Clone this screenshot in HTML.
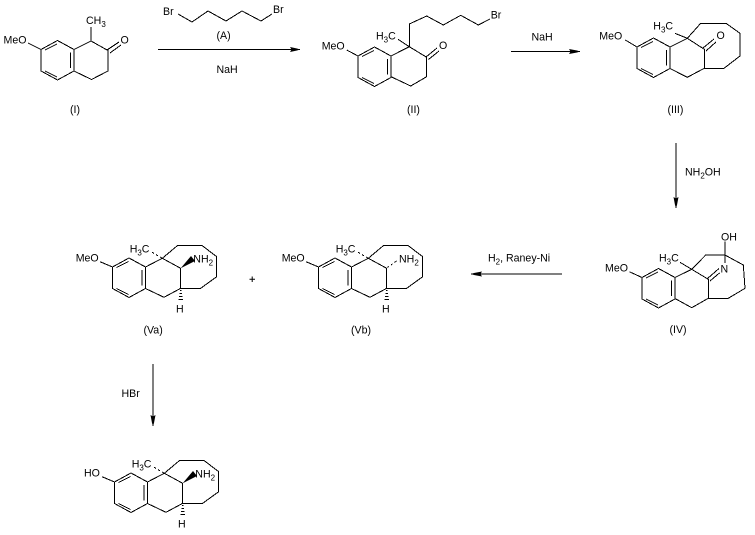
<!DOCTYPE html>
<html>
<head>
<meta charset="utf-8">
<style>
html,body{margin:0;padding:0;background:#fff;}
svg{display:block;}
text{font-family:"Liberation Sans",Arial,sans-serif;font-size:10.6px;fill:#000;}
tspan.s{font-size:8px;}
.b{fill:none;stroke:#000;stroke-width:1;shape-rendering:crispEdges;}
.f{fill:#000;stroke:none;}
</style>
</head>
<body>
<svg width="755" height="535" viewBox="0 0 755 535" xmlns="http://www.w3.org/2000/svg">
<rect width="755" height="535" fill="#fff"/>
<defs>
<g id="ring" class="b">
<polygon points="0,0 16.5,-9 33,0 33,21.5 16.5,30.5 0,21.5"/>
<path d="M4 0.5L16 -5.5M29.5 3V18.5M4 21.5L16 27.5"/>
</g>
<g id="core">
<use href="#ring" x="112.5" y="267"/>
<path class="b" d="M100 261.7L112.5 267M145.5 267L162.3 258.3L180.7 268.3V288.3L164 297.3L145.5 288.5M162.3 258.3L177.3 245.7H202.3L216.7 256.7V276.7L200.7 288.3H180.7"/>
<path class="b" d="M162.3 258.3L160 257M158 255.8L156 254.6M154 253.4L152 252.2"/>
<path class="b" d="M180 290.5h1.5M179.5 293.5h2.5M179 296.5h3.5M178.5 299.5h4.5"/>
</g>
</defs>

<!-- I -->
<use href="#ring" x="41" y="49.5"/>
<path class="b" d="M28 43L41 49.5M74 49.5L91 41L108 50.5V71L91.5 79.5L74 71M91 41V27M107 50L119 42M110 53L121 45"/>
<text x="3.5" y="43.5">MeO</text>
<text x="86" y="24">CH<tspan class="s" dy="3">3</tspan></text>
<text x="120.5" y="43.5">O</text>
<text x="70" y="113">(I)</text>

<!-- A -->
<path class="b" d="M178 14L192 22L208 11L226 21L242 11L261 21L272 14"/>
<text x="163" y="15">Br</text>
<text x="273" y="13">Br</text>
<text x="216.5" y="39">(A)</text>
<text x="216.5" y="73">NaH</text>
<path class="b" d="M158 49.5H300"/>
<path class="f" d="M290 47L297 48.5L300 49.5L297 50.5L290 52L291.5 49.5Z"/>

<!-- II -->
<use href="#ring" x="358" y="56"/>
<path class="b" d="M346.7 50L358 56M391 56L409.3 46.7L426.7 57.3V76.7L410.7 86L391 76.7M398 39.3L409.3 46.7M409.3 46.7V24L426.7 16L443.3 25L460.7 15.3L478.3 25L490 19M426 57L437 48M428.5 59.5L439 51"/>
<text x="321.7" y="49.3">MeO</text>
<text x="376" y="39.5">H<tspan class="s" dy="3">3</tspan><tspan dy="-3">C</tspan></text>
<text x="439" y="49">O</text>
<text x="490.7" y="18.5">Br</text>
<text x="407" y="113">(II)</text>

<!-- arrow 2 -->
<path class="b" d="M511 51.5H580"/>
<path class="f" d="M569 49L577 50.5L580 51.5L577 52.5L569 54L570.5 51.5Z"/>
<text x="531.5" y="40.5">NaH</text>

<!-- III -->
<use href="#ring" x="637" y="47"/>
<path class="b" d="M625.3 40L637 47M670 47L687.3 38.3L704.3 49.3V68.3H724L740 56V33.3L726 23.3H700.7L687.3 38.3M704.3 68.3L687.3 77.3L670 68.5M675 33.3L687.3 38.3M703 48L714 39M706 51L716 42"/>
<text x="599.3" y="39.3">MeO</text>
<text x="653.3" y="29.3">H<tspan class="s" dy="3">3</tspan><tspan dy="-3">C</tspan></text>
<text x="716.5" y="39">O</text>
<text x="667.5" y="113">(III)</text>

<!-- arrow 3 -->
<path class="b" d="M676 143V208"/>
<path class="f" d="M673.5 197L675 205L676 208L677 205L678.5 197L676 198.5Z"/>
<text x="685" y="175.7">NH<tspan class="s" dy="3">2</tspan><tspan dy="-3">OH</tspan></text>

<!-- IV -->
<use href="#ring" x="642" y="277.5"/>
<path class="b" d="M629.3 271.7L642 277.5M675 277.5L691.7 269.3L708.3 279.3V298.3H728.3L745 288.3L743.3 265L725 255H705.7L691.7 269.3M708.3 298.3L691.7 307.7L675 298.5M680 262.3L691.7 269.3M707.5 278.5L719 268.5M710 281L720 272.5M725 241.7V263"/>
<rect x="719.5" y="263" width="10" height="10" fill="#fff"/>
<text x="605" y="271.7">MeO</text>
<text x="659" y="261.7">H<tspan class="s" dy="3">3</tspan><tspan dy="-3">C</tspan></text>
<text x="720.5" y="272.5">N</text>
<text x="721" y="240.7">OH</text>
<text x="669.5" y="333">(IV)</text>

<!-- arrow 4 -->
<path class="b" d="M471 274H562"/>
<path class="f" d="M482 271.5L474 273L471 274L474 275L482 276.5L480.5 274Z"/>
<text x="488" y="261.7">H<tspan class="s" dy="3">2</tspan><tspan dy="-3">, Raney-Ni</tspan></text>

<!-- Vb -->
<use href="#core" x="206" y="0"/>
<path class="b" d="M387.5 267.5L389 266.3M391 265L392.5 263.8M394.5 262.5L396.5 261"/>
<text x="281.7" y="261.7">MeO</text>
<text x="335.7" y="252.3">H<tspan class="s" dy="3">3</tspan><tspan dy="-3">C</tspan></text>
<text x="399" y="262.3">NH<tspan class="s" dy="3">2</tspan></text>
<text x="382" y="312.3">H</text>
<text x="351" y="333.3">(Vb)</text>

<!-- plus -->
<path class="f" d="M249.5 278.8h5.5v1h-5.5zM251.7 276.5h1v5.5h-1z"/>

<!-- Va -->
<use href="#core"/>
<path class="f" d="M180.7 268.3L191 256L195 261Z"/>
<text x="75.7" y="261.7">MeO</text>
<text x="129.7" y="252.3">H<tspan class="s" dy="3">3</tspan><tspan dy="-3">C</tspan></text>
<text x="193.3" y="262.3">NH<tspan class="s" dy="3">2</tspan></text>
<text x="176" y="312.3">H</text>
<text x="143.5" y="333.3">(Va)</text>

<!-- arrow 5 -->
<path class="b" d="M153 364V426"/>
<path class="f" d="M150.5 415L152 423L153 426L154 423L155.5 415L153 416.5Z"/>
<text x="121.5" y="397">HBr</text>

<!-- bottom -->
<use href="#core" x="2" y="215"/>
<path class="f" d="M182.7 483.3L193 471L197 476Z"/>
<text x="84" y="476.7">HO</text>
<text x="131.7" y="467.3">H<tspan class="s" dy="3">3</tspan><tspan dy="-3">C</tspan></text>
<text x="195.3" y="477.3">NH<tspan class="s" dy="3">2</tspan></text>
<text x="178" y="527.3">H</text>
</svg>
</body>
</html>
